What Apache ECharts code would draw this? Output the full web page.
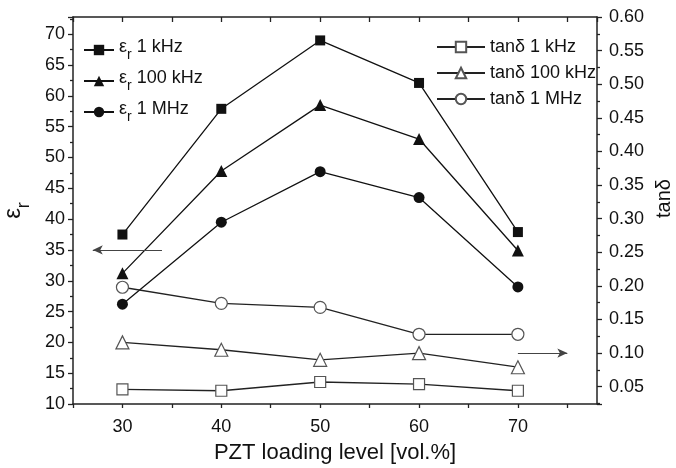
<!DOCTYPE html>
<html>
<head>
<meta charset="utf-8">
<script src="https://cdn.jsdelivr.net/npm/echarts@6/dist/echarts.min.js"></script>
<style>
  html, body { margin: 0; padding: 0; background: #fff; }
  #main { width: 676px; height: 468px; }
</style>
</head>
<body>
<div id="main"></div>
<script>
// PZT loading level [vol.%]
var loading = [30, 40, 50, 60, 70];

// permittivity (left axis)
var er1k   = [37.5, 57.9, 69.0, 62.1, 37.9];
var er100k = [31.2, 47.8, 58.5, 53.0, 34.9];
var er1M   = [26.2, 39.5, 47.7, 43.5, 29.0];

// loss tangent (right axis)
var tan1k   = [0.046, 0.044, 0.057, 0.054, 0.044];
var tan100k = [0.116, 0.105, 0.090, 0.100, 0.079];
var tan1M   = [0.198, 0.174, 0.168, 0.128, 0.128];

var erNames  = ['εr 1 kHz', 'εr 100 kHz', 'εr 1 MHz'];
var tanNames = ['tanδ 1 kHz', 'tanδ 100 kHz', 'tanδ 1 MHz'];

var font = 'Liberation Sans, Arial, sans-serif';

function pairs(ys) {
  return loading.map(function (x, i) { return [x, ys[i]]; });
}

var chart = echarts.init(document.getElementById('main'));

var subRich = {
  e: { fontSize: 18, fontFamily: font, color: '#111', lineHeight: 18, verticalAlign: 'top' },
  s: { fontSize: 14, fontFamily: font, color: '#111', lineHeight: 24, verticalAlign: 'bottom' },
  t: { fontSize: 18, fontFamily: font, color: '#111', lineHeight: 18, verticalAlign: 'top' }
};

function filled(name, symbol, data, size) {
  return {
    name: name, type: 'line', xAxisIndex: 0, yAxisIndex: 0,
    data: pairs(data), symbol: symbol, symbolSize: size,
    lineStyle: { color: '#111', width: 1.3 },
    itemStyle: { color: '#111', borderWidth: 0 },
    animation: false
  };
}

function open(name, symbol, data, size) {
  return {
    name: name, type: 'line', xAxisIndex: 0, yAxisIndex: 1,
    data: pairs(data), symbol: symbol, symbolSize: size,
    lineStyle: { color: '#222', width: 1.3 },
    itemStyle: { color: '#fff', borderColor: '#555', borderWidth: 1.2 },
    animation: false
  };
}

var series = [
  filled(erNames[0], 'rect', er1k, 10),
  filled(erNames[1], 'triangle', er100k, 12),
  filled(erNames[2], 'circle', er1M, 11),
  open(tanNames[0], 'rect', tan1k, 11),
  open(tanNames[1], 'triangle', tan100k, 13),
  open(tanNames[2], 'circle', tan1M, 12)
];

// arrows telling which axis each group belongs to
series[0].markLine = {
  silent: true, symbol: ['none', 'arrow'], symbolSize: [7, 10],
  label: { show: false },
  lineStyle: { color: '#444', width: 1, type: 'solid' },
  data: [[{ coord: [34, 35] }, { coord: [27, 35] }]]
};
series[3].markLine = {
  silent: true, symbol: ['none', 'arrow'], symbolSize: [7, 10],
  label: { show: false },
  lineStyle: { color: '#444', width: 1, type: 'solid' },
  data: [[{ coord: [70, 0.1] }, { coord: [75, 0.1] }]]
};

var axisCommon = {
  axisLine: { show: true, onZero: false, lineStyle: { color: '#222', width: 1.5 } },
  splitLine: { show: false }
};

var option = {
  backgroundColor: '#fff',
  animation: false,
  grid: { left: 73, right: 79, top: 17, bottom: 64, containLabel: false, outerBoundsMode: 'none' },
  legend: [
    {
      data: erNames, orient: 'vertical', left: 78, top: 33,
      itemWidth: 30, itemHeight: 13, itemGap: 7,
      textStyle: { fontFamily: font, fontSize: 18, color: '#111', rich: subRich },
      formatter: function (n) { return '{e|ε}{s|r}{t|' + n.slice(2) + '}'; }
    },
    {
      data: tanNames, orient: 'vertical', left: 431, top: 33,
      itemWidth: 48, itemHeight: 13, itemGap: 8,
      textStyle: { fontFamily: font, fontSize: 18, color: '#111' }
    }
  ],
  xAxis: [
    Object.assign({
      type: 'value', min: 25, max: 78, interval: 5,
      name: 'PZT loading level [vol.%]', nameLocation: 'middle', nameGap: 38,
      nameTextStyle: { fontFamily: font, fontSize: 22, color: '#111' },
      axisTick: { show: true, inside: false, length: 4, lineStyle: { color: '#222', width: 1.3 } },
      axisLabel: {
        fontFamily: font, fontSize: 18, color: '#111', margin: 14, showMaxLabel: false,
        formatter: function (v) { return v % 10 === 0 ? String(v) : ''; }
      }
    }, axisCommon),
    Object.assign({
      type: 'value', position: 'top', min: 25, max: 78, interval: 5,
      axisTick: { show: true, inside: true, length: 5, lineStyle: { color: '#222', width: 1.3 } },
      axisLabel: { show: false }
    }, axisCommon)
  ],
  yAxis: [
    Object.assign({
      type: 'value', min: 10, max: 72.8, interval: 5,
      name: '{e|ε}{s|r}', nameLocation: 'middle', nameGap: 40, nameRotate: 90,
      nameTextStyle: {
        rich: {
          e: { fontSize: 24, fontFamily: font, color: '#111', lineHeight: 24, verticalAlign: 'top' },
          s: { fontSize: 18, fontFamily: font, color: '#111', lineHeight: 32, verticalAlign: 'bottom' }
        }
      },
      axisTick: { show: true, length: 5, lineStyle: { color: '#222', width: 1.3 } },
      minorTick: { show: true, splitNumber: 2, length: 3, lineStyle: { color: '#222', width: 1.3 } },
      axisLabel: { fontFamily: font, fontSize: 18, color: '#111', margin: 8, showMaxLabel: false }
    }, axisCommon),
    Object.assign({
      type: 'value', position: 'right', min: 0.0243, max: 0.6,
      minInterval: 0.05, maxInterval: 0.05,
      name: 'tanδ', nameLocation: 'middle', nameGap: 54, nameRotate: 90,
      nameTextStyle: { fontFamily: font, fontSize: 20, color: '#111', padding: [0, 0, 0, 24] },
      axisTick: { show: true, length: 5, lineStyle: { color: '#222', width: 1.3 } },
      minorTick: { show: true, splitNumber: 2, length: 3, lineStyle: { color: '#222', width: 1.3 } },
      axisLabel: {
        fontFamily: font, fontSize: 18, color: '#111', margin: 12, showMinLabel: false,
        formatter: function (v) { return v.toFixed(2); }
      }
    }, axisCommon)
  ],
  series: series
};

option && chart.setOption(option);
</script>
</body>
</html>
